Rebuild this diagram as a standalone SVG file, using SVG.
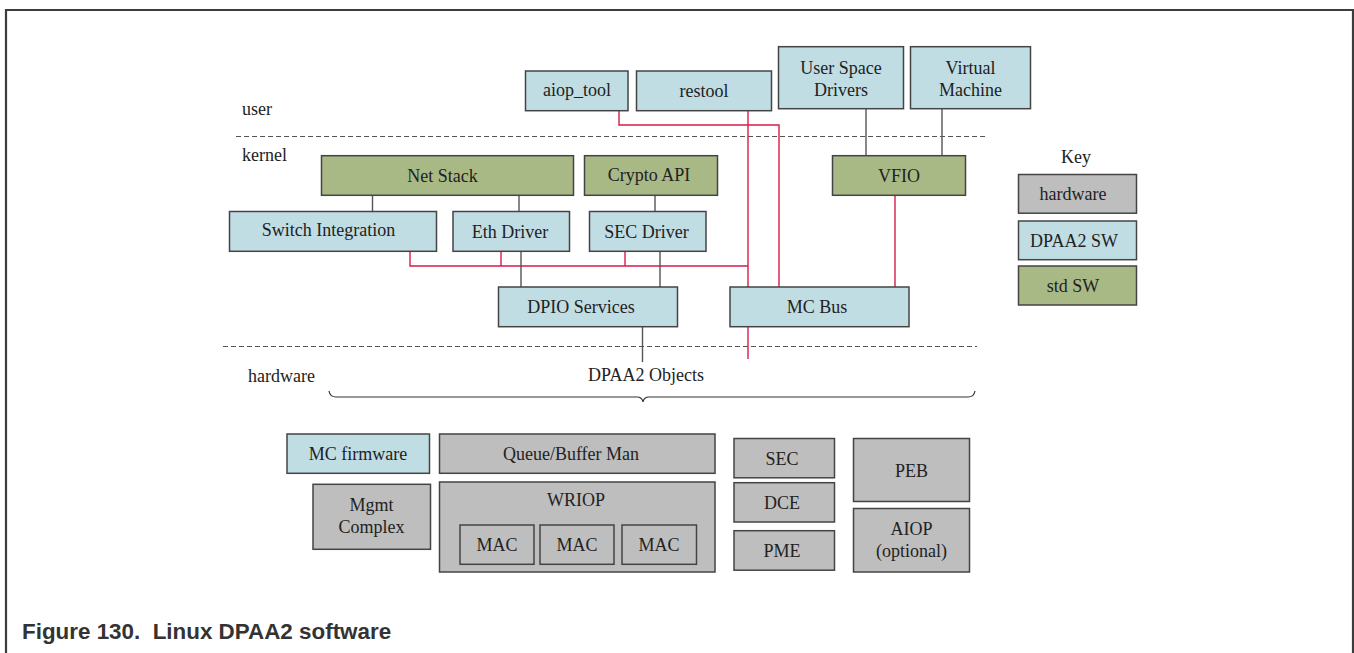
<svg xmlns="http://www.w3.org/2000/svg" width="1354" height="653" viewBox="0 0 1354 653">
<style>
.t{font-family:"Liberation Serif","Times New Roman",serif;font-size:18px;fill:#222;text-anchor:middle}
.l{font-family:"Liberation Serif","Times New Roman",serif;font-size:18px;fill:#222}
.b{stroke:#444;stroke-width:1.5}
.sw{fill:#c0dde4}
.std{fill:#a8b985}
.hw{fill:#bebebe}
.g{stroke:#555;stroke-width:1.4;fill:none}
.r{stroke:#d81b4a;stroke-width:1.4;fill:none}
.dash{stroke:#555;stroke-width:1.2;stroke-dasharray:5 3;fill:none}
</style>
<rect width="1354" height="653" fill="#fff"/>
<path d="M6 653 V10 H1353 V653" fill="none" stroke="#3c3c3c" stroke-width="2.2"/>

<g id="layers">
<path class="dash" d="M236 136.5 H988"/>
<path class="dash" d="M223 346.5 H977"/>
<text class="l" x="242" y="115">user</text>
<text class="l" x="242" y="161">kernel</text>
<text class="l" x="248" y="382">hardware</text>
</g>

<g id="connectors">
<path class="r" d="M619 110.7 V125 H779 V287"/>
<path class="r" d="M748 110.7 V359"/>
<path class="r" d="M410 251 V266 H748 M501 251 V266 M625 251 V266"/>
<path class="r" stroke="#e2628a" d="M895 195 V287"/>
<path class="g" d="M372.5 195 V211 M519 195 V211 M655 195 V211 M521 251 V287 M660 251 V287 M642.5 327 V362 M866 108.7 V155.7 M942 108.7 V155.7"/>
</g>

<g id="aiop_tool"><rect class="b sw" x="525.5" y="71" width="102.5" height="39.7"/><text class="t" x="577" y="96">aiop_tool</text></g>
<g id="restool"><rect class="b sw" x="636.5" y="71" width="135" height="39.7"/><text class="t" x="704" y="97">restool</text></g>
<g id="user_space_drivers"><rect class="b sw" x="778.5" y="46.7" width="125" height="62"/><text class="t" x="841" y="73.5">User Space</text><text class="t" x="841" y="96">Drivers</text></g>
<g id="virtual_machine"><rect class="b sw" x="910.5" y="46.7" width="120" height="62"/><text class="t" x="970.5" y="73.5">Virtual</text><text class="t" x="970.5" y="96">Machine</text></g>

<g id="net_stack"><rect class="b std" x="321.5" y="155.7" width="252" height="39.6"/><text class="t" x="442.5" y="182">Net Stack</text></g>
<g id="crypto_api"><rect class="b std" x="584.5" y="155.7" width="133" height="39.6"/><text class="t" x="649" y="181">Crypto API</text></g>
<g id="vfio"><rect class="b std" x="832.5" y="155.7" width="133" height="39.6"/><text class="t" x="899" y="182">VFIO</text></g>

<g id="switch_integration"><rect class="b sw" x="229.5" y="211.5" width="207" height="39.8"/><text class="t" x="328.5" y="236">Switch Integration</text></g>
<g id="eth_driver"><rect class="b sw" x="453" y="211.5" width="116.5" height="39.8"/><text class="t" x="510" y="238">Eth Driver</text></g>
<g id="sec_driver"><rect class="b sw" x="589.5" y="211.5" width="116.5" height="39.8"/><text class="t" x="646.5" y="238">SEC Driver</text></g>

<g id="dpio_services"><rect class="b sw" x="498.5" y="287" width="179" height="39.7"/><text class="t" x="581" y="313">DPIO Services</text></g>
<g id="mc_bus"><rect class="b sw" x="730" y="287" width="179" height="39.7"/><text class="t" x="817" y="313">MC Bus</text></g>

<g id="dpaa2_objects">
<text class="t" x="646" y="381">DPAA2 Objects</text>
<path d="M329 391 Q330 397 336 397 H637 Q642 397 643 402 Q644 397 649 397 H968 Q974 397 975 391" fill="none" stroke="#333" stroke-width="1.2"/>
</g>

<g id="mc_firmware"><rect class="b sw" x="287" y="434" width="142.5" height="39.3"/><text class="t" x="358" y="460">MC firmware</text></g>
<g id="queue_buffer_man"><rect class="b hw" x="439.5" y="434" width="275.5" height="39.3"/><text class="t" x="571" y="460">Queue/Buffer Man</text></g>
<g id="mgmt_complex"><rect class="b hw" x="313" y="484.3" width="117.5" height="65"/><text class="t" x="371.5" y="510.5">Mgmt</text><text class="t" x="371.5" y="533">Complex</text></g>
<g id="wriop"><rect class="b hw" x="439.5" y="482" width="275.5" height="90"/><text class="t" x="576" y="506">WRIOP</text>
<g id="mac1"><rect class="b hw" x="460" y="525" width="74" height="39.3"/><text class="t" x="497" y="551">MAC</text></g>
<g id="mac2"><rect class="b hw" x="540" y="525" width="74" height="39.3"/><text class="t" x="577" y="551">MAC</text></g>
<g id="mac3"><rect class="b hw" x="622" y="525" width="74.5" height="39.3"/><text class="t" x="659" y="551">MAC</text></g>
</g>
<g id="sec"><rect class="b hw" x="734" y="438.5" width="100.5" height="39.3"/><text class="t" x="782" y="465">SEC</text></g>
<g id="dce"><rect class="b hw" x="734" y="482.7" width="100.5" height="39.3"/><text class="t" x="782" y="509">DCE</text></g>
<g id="pme"><rect class="b hw" x="734" y="530.7" width="100.5" height="39.5"/><text class="t" x="782" y="557">PME</text></g>
<g id="peb"><rect class="b hw" x="853.5" y="438.5" width="116" height="63"/><text class="t" x="911.5" y="477">PEB</text></g>
<g id="aiop"><rect class="b hw" x="853.5" y="508.5" width="116" height="63.5"/><text class="t" x="911.5" y="535">AIOP</text><text class="t" x="911.5" y="557">(optional)</text></g>

<g id="key">
<text class="t" x="1076" y="163">Key</text>
<g id="key_hardware"><rect class="b hw" x="1018.5" y="174.5" width="118" height="38.7"/><text class="t" x="1073" y="200">hardware</text></g>
<g id="key_dpaa2_sw"><rect class="b sw" x="1018.5" y="221" width="118" height="38.7"/><text class="t" x="1074" y="247">DPAA2 SW</text></g>
<g id="key_std_sw"><rect class="b std" x="1018.5" y="266" width="118" height="39"/><text class="t" x="1073" y="292">std SW</text></g>
</g>

<text x="22" y="639" font-family="'Liberation Sans',Arial,sans-serif" font-size="22.4" font-weight="bold" fill="#333" xml:space="preserve">Figure 130.  Linux DPAA2 software</text>
</svg>
